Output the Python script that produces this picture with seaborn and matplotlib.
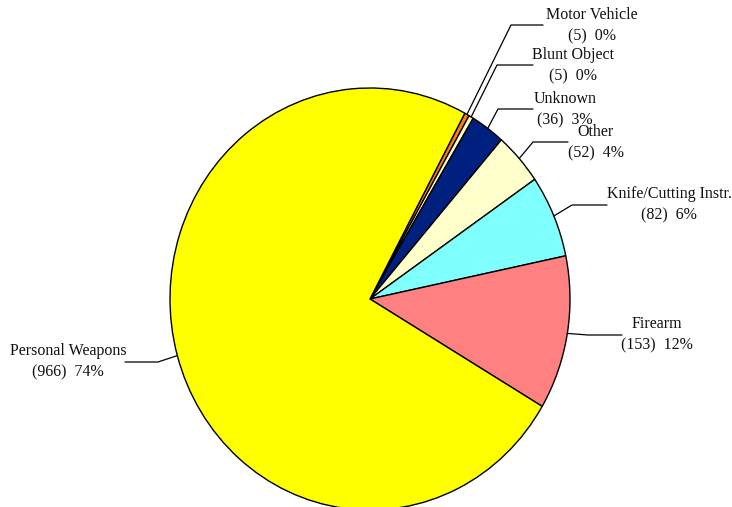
import numpy as np
import seaborn as sns
import matplotlib.pyplot as plt

sns.set_style("white")
plt.rcParams['font.family'] = ['Liberation Serif', 'DejaVu Serif']

categories = ["Motor Vehicle", "Blunt Object", "Unknown", "Other",
              "Knife/Cutting Instr.", "Firearm", "Personal Weapons"]
counts = [5, 5, 36, 52, 82, 153, 966]
colors = ["#FF8000", "#FFFFCC", "#002080", "#FFFFCC", "#80FFFF", "#FF8080", "#FFFF00"]

# label layout in pixels: text centre, elbow of leader, end of leader
text_pos = [(592, 26), (573, 66), (565, 110), (596, 143), (669, 205), (657, 335), (68, 362)]
elbows = [(511, 25), (497, 65), (498, 109), (533, 142), (572, 205), (588, 335), (158, 362)]
line_end = [543, 533, 533, 568, 607, 622, 125]

W, H = 732, 507
cx, cy = 370, 299
rx, ry = 200, 211


def px(x, y):
    return (x - cx) / rx, (cy - y) / ry


fig = plt.figure(figsize=(W / 100, H / 100), dpi=100)
ax = fig.add_axes([0, 0, 1, 1])

wedges, _ = ax.pie(counts, colors=colors, startangle=61.7, counterclock=False,
                   wedgeprops=dict(edgecolor="black", linewidth=1.0))
ax.set_aspect("auto")
ax.set_xlim(-cx / rx, (W - cx) / rx)
ax.set_ylim(-(H - cy) / ry, cy / ry)
ax.axis("off")

total = sum(counts)
for w, name, n, tp, el, le in zip(wedges, categories, counts, text_pos, elbows, line_end):
    mid = np.deg2rad((w.theta1 + w.theta2) / 2)
    sx, sy = np.cos(mid), np.sin(mid)
    ex, ey = px(*el)
    lx, _ = px(le, el[1])
    ax.plot([sx, ex, lx], [sy, ey, ey], color="black", linewidth=0.9)
    tx, ty = px(*tp)
    pct = round(100 * n / total)
    ax.text(tx, ty, f"{name}\n({n})  {pct}%", ha="center", va="center",
            fontsize=11.5, linespacing=1.42, color="#111111")

fig.savefig("out.png", dpi=100)
